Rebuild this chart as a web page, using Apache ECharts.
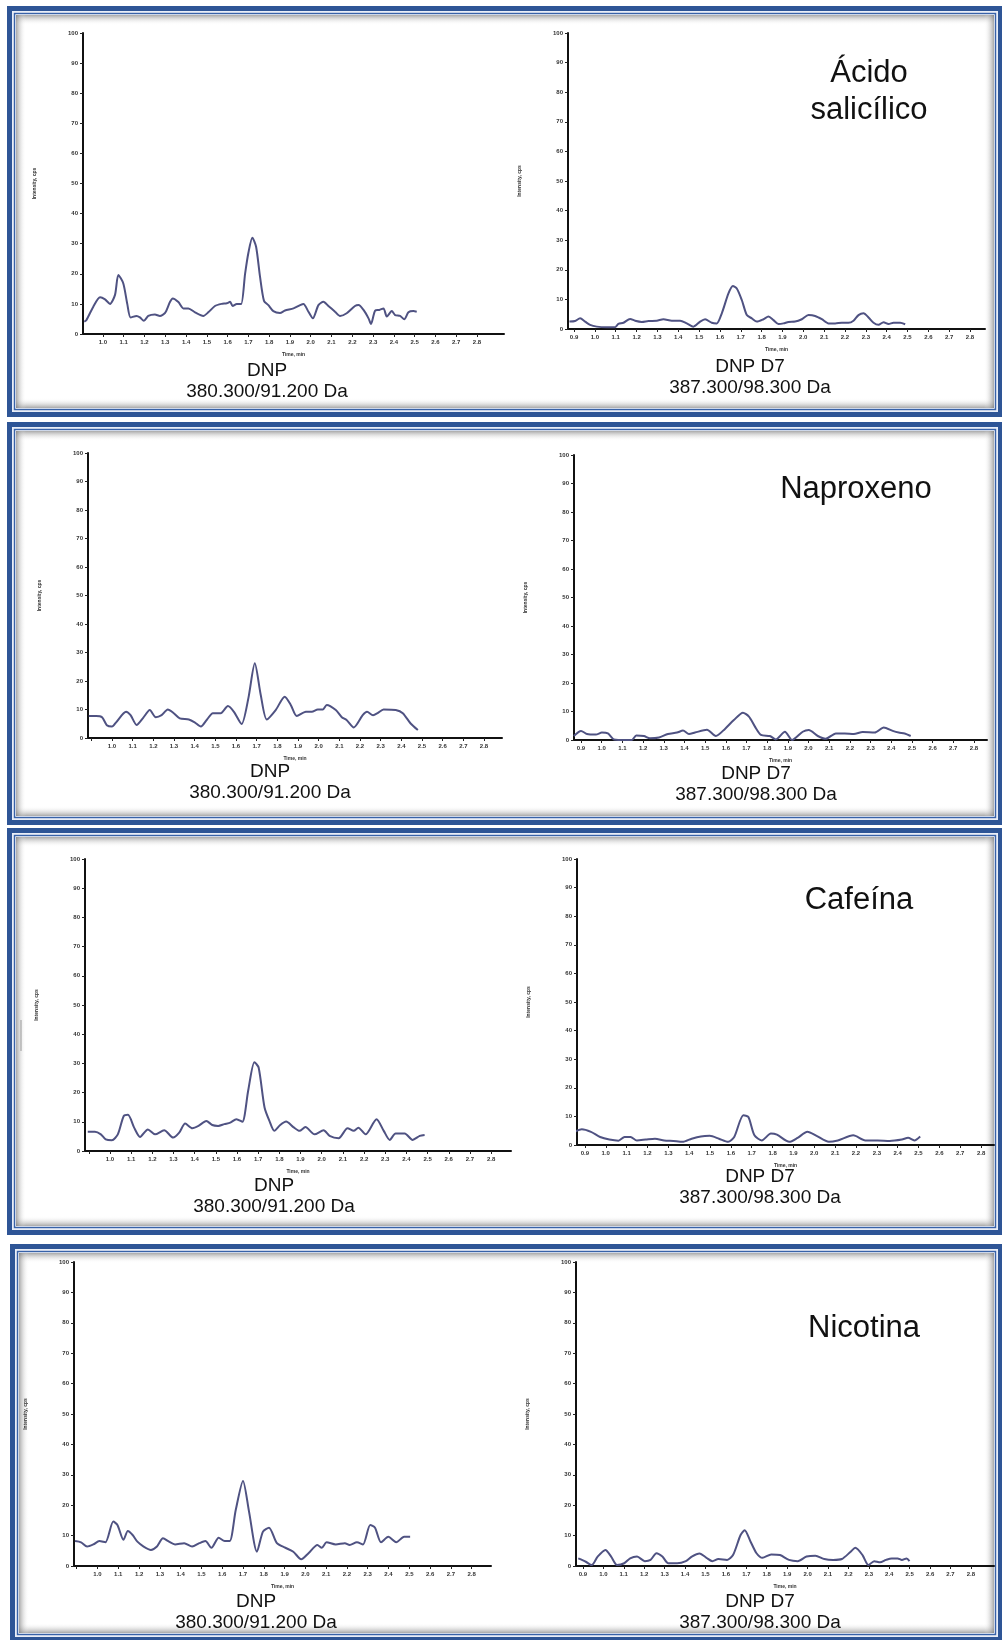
<!DOCTYPE html>
<html>
<head>
<meta charset="utf-8">
<script src="https://cdn.jsdelivr.net/npm/echarts@6/dist/echarts.min.js"></script>
<style>
  html, body { margin: 0; padding: 0; background: #fff; }
  #main { width: 1002px; height: 1640px; }
</style>
</head>
<body>
<div id="main"></div>
<script>
// tick labels (Time, min) and intensity ticks
var timeTicks = [0.9, 1.0, 1.1, 1.2, 1.3, 1.4, 1.5, 1.6, 1.7, 1.8, 1.9, 2.0, 2.1, 2.2, 2.3, 2.4, 2.5, 2.6, 2.7, 2.8];
var dnpTicks = [1.0, 1.1, 1.2, 1.3, 1.4, 1.5, 1.6, 1.7, 1.8, 1.9, 2.0, 2.1, 2.2, 2.3, 2.4, 2.5, 2.6, 2.7, 2.8];

// Ácido salicílico
var acidoDnp = [[0.91,4.1],[0.92,4.6],[0.953,9],[0.986,12.2],[1.01,11.5],[1.034,10],[1.058,13],[1.074,19.6],[1.098,16.8],[1.117,10],[1.133,5.5],[1.162,6],[1.178,5.5],[1.197,4.4],[1.218,6],[1.25,6.5],[1.274,6],[1.299,7],[1.323,10.7],[1.336,11.8],[1.363,10.6],[1.387,8.5],[1.411,8.5],[1.443,7.2],[1.483,6],[1.507,7.2],[1.539,9.3],[1.571,10],[1.596,10.2],[1.612,10.7],[1.624,9.3],[1.644,10],[1.665,10],[1.684,20],[1.70,27],[1.719,32],[1.737,29],[1.756,19],[1.775,11],[1.796,9.6],[1.82,7.6],[1.852,7],[1.876,7.8],[1.917,8.5],[1.949,9.6],[1.965,10],[1.989,7.4],[2.01,5.2],[2.037,9.6],[2.061,10.7],[2.085,9.3],[2.117,7.4],[2.141,6],[2.173,6.9],[2.213,9.3],[2.23,9.6],[2.254,8],[2.278,5.2],[2.29,3.3],[2.31,7.8],[2.33,8],[2.35,8.5],[2.366,5.8],[2.39,7.6],[2.406,6.3],[2.43,6],[2.45,4.9],[2.47,7.2],[2.494,7.6],[2.51,7.4]];
var acidoD7 = [[0.878,2.5],[0.905,2.7],[0.929,3.6],[0.953,2.5],[0.977,1.4],[1.009,0.8],[1.057,0.6],[1.097,0.6],[1.113,1.7],[1.137,2.1],[1.169,3.4],[1.193,2.8],[1.225,2.4],[1.257,2.7],[1.297,2.8],[1.329,3.3],[1.369,2.8],[1.409,2.8],[1.441,1.9],[1.473,0.8],[1.505,2.5],[1.529,3.3],[1.561,2.1],[1.585,1.9],[1.609,5.3],[1.641,12],[1.662,14.5],[1.681,13.7],[1.705,9.8],[1.729,4.7],[1.753,3.6],[1.777,2.5],[1.809,3.3],[1.833,4.2],[1.857,3],[1.881,1.7],[1.905,1.9],[1.929,2.4],[1.961,2.5],[1.993,3.3],[2.025,4.7],[2.057,4.4],[2.089,3.3],[2.121,1.9],[2.153,1.9],[2.185,2.1],[2.217,2.1],[2.241,2.8],[2.265,4.7],[2.289,5.3],[2.313,3.9],[2.337,2.1],[2.361,1.4],[2.385,2.3],[2.409,1.7],[2.433,2.1],[2.465,2.1],[2.489,1.6]];

// Naproxeno
var naproxenoDnp = [[0.888,7.7],[0.923,7.7],[0.952,7.3],[0.975,4.5],[1.0,4],[1.02,5.5],[1.068,9.2],[1.09,8],[1.119,4.6],[1.15,7],[1.183,9.8],[1.212,7.3],[1.24,8],[1.27,10],[1.299,8.7],[1.328,6.9],[1.372,6.5],[1.40,5.5],[1.43,4],[1.46,6.5],[1.488,8.7],[1.526,8.7],[1.561,11.2],[1.59,9.2],[1.627,4.9],[1.66,14],[1.691,26.2],[1.72,15],[1.749,6.5],[1.792,9.8],[1.836,14.5],[1.865,11.6],[1.894,7.7],[1.938,9.2],[1.967,9.2],[1.996,10],[2.02,10],[2.039,11.6],[2.083,9.8],[2.112,7.3],[2.135,6.3],[2.17,3.7],[2.213,8],[2.234,9.2],[2.263,8],[2.285,8.7],[2.314,10],[2.373,9.8],[2.407,8.7],[2.445,5.1],[2.48,2.8]];
var naproxenoD7 = [[0.865,1.4],[0.9,3.2],[0.929,2.1],[0.972,1.9],[1.001,2.6],[1.03,2.3],[1.059,0.2],[1.117,0],[1.146,0],[1.167,1.6],[1.204,1.4],[1.233,0.6],[1.277,0.9],[1.32,2.1],[1.364,2.6],[1.393,3.3],[1.422,2.1],[1.451,2.6],[1.509,3.6],[1.552,1.4],[1.596,3.9],[1.639,7],[1.683,9.6],[1.712,8.2],[1.741,4.7],[1.77,1.8],[1.813,1.4],[1.842,0.2],[1.886,2.9],[1.92,0],[1.972,2.9],[2.001,3.5],[2.045,1.4],[2.083,0.4],[2.132,2.3],[2.175,2.3],[2.219,2.1],[2.262,2.8],[2.32,2.6],[2.364,4.4],[2.407,3.2],[2.436,2.6],[2.465,2.3],[2.494,1.4]];

// Cafeína
var cafeinaDnp = [[0.895,6.6],[0.929,6.6],[0.957,5.7],[0.98,4],[1.009,3.7],[1.037,5.7],[1.065,12],[1.085,12.4],[1.114,8],[1.142,4.8],[1.179,7.4],[1.213,5.7],[1.256,7.1],[1.298,4.6],[1.327,6.3],[1.355,9.4],[1.389,7.8],[1.418,8.6],[1.455,10.3],[1.483,8.9],[1.511,8.6],[1.54,9.2],[1.568,9.7],[1.597,10.9],[1.625,10],[1.653,20.8],[1.682,30.4],[1.702,28.6],[1.73,14.9],[1.753,10.3],[1.776,6.9],[1.804,8.9],[1.832,10.1],[1.866,8.2],[1.895,6.9],[1.923,8.2],[1.966,5.7],[2.009,7.1],[2.037,5.2],[2.08,4.4],[2.122,7.8],[2.151,6.9],[2.173,8],[2.207,5.7],[2.259,10.9],[2.293,6.9],[2.321,3.8],[2.349,6],[2.392,6],[2.429,3.8],[2.463,5.2],[2.486,5.5]];
var cafeinaD7 = [[0.856,4.8],[0.885,5.5],[0.929,4.6],[0.973,2.8],[1.017,1.9],[1.061,1.5],[1.09,2.8],[1.119,2.8],[1.149,1.6],[1.192,1.9],[1.236,2.2],[1.28,1.6],[1.324,1.4],[1.368,1.1],[1.412,2.2],[1.456,3],[1.499,3.2],[1.543,2.2],[1.587,1.1],[1.616,2.8],[1.66,10.4],[1.684,9.8],[1.713,3.4],[1.748,1.6],[1.792,4],[1.821,3.6],[1.88,1.1],[1.92,2.5],[1.967,4.6],[2.011,3.2],[2.07,1.1],[2.113,1.6],[2.187,3.4],[2.245,1.6],[2.304,1.6],[2.362,1.4],[2.42,1.9],[2.45,2.5],[2.48,1.6],[2.508,3]];

// Nicotina
var nicotinaDnp = [[0.892,8.2],[0.921,7.8],[0.95,6.4],[0.98,7.1],[1.009,8.2],[1.038,7.8],[1.076,14.6],[1.096,13.5],[1.125,8.6],[1.146,11.5],[1.169,10.2],[1.192,8],[1.222,6.4],[1.257,5.3],[1.286,6.4],[1.315,9.1],[1.344,8],[1.373,7.1],[1.417,7.5],[1.455,6.4],[1.49,7.5],[1.519,8.2],[1.548,6],[1.583,9.3],[1.612,8.2],[1.636,8.2],[1.665,18.4],[1.70,28],[1.729,17.9],[1.767,4.7],[1.796,11.3],[1.825,12.6],[1.863,7.5],[1.904,6],[1.942,4.7],[1.98,2.2],[2.015,4.2],[2.058,6.9],[2.079,6],[2.102,7.8],[2.146,7.1],[2.19,7.5],[2.213,6.9],[2.248,7.8],[2.277,7.1],[2.312,13.5],[2.335,12.6],[2.364,7.8],[2.399,9.6],[2.437,7.8],[2.475,9.6],[2.504,9.6]];
var nicotinaD7 = [[0.877,2.5],[0.914,1.4],[0.943,0.3],[0.972,3.1],[1.01,5.3],[1.038,3.1],[1.067,0.3],[1.102,0.9],[1.131,2.5],[1.165,3.1],[1.203,1.6],[1.231,2],[1.26,4.2],[1.289,3.1],[1.318,0.9],[1.361,0.9],[1.404,1.6],[1.433,3.1],[1.471,4.1],[1.505,2.7],[1.534,1.6],[1.563,2.3],[1.606,2],[1.635,3.6],[1.672,10.2],[1.692,11.8],[1.721,8],[1.75,4.2],[1.779,2.7],[1.822,3.8],[1.865,3.6],[1.909,2],[1.952,1.6],[1.995,3.1],[2.038,3.4],[2.082,2.3],[2.125,2],[2.168,2.3],[2.211,4.7],[2.234,6],[2.269,3.6],[2.298,0.3],[2.326,1.6],[2.355,1.2],[2.384,2],[2.412,2.5],[2.441,2.5],[2.462,2],[2.485,2.5],[2.499,1.6]];

var FONT = 'Arial, "Liberation Sans", sans-serif';
var LINE = '#4f5282';
var BLUE = '#2e5596';

// layout of the eight chromatograms (pixel boxes of the plot areas)
var charts = [
  { data: acidoDnp,     left: 83,  top: 33,   right: 504, bottom: 334,  min: 0.904, max: 2.93,  ticks: dnpTicks },
  { data: acidoD7,      left: 568, top: 33,   right: 985, bottom: 329,  min: 0.871, max: 2.872, ticks: timeTicks },
  { data: naproxenoDnp, left: 88,  top: 453,  right: 502, bottom: 738,  min: 0.884, max: 2.887, ticks: dnpTicks },
  { data: naproxenoD7,  left: 574, top: 455,  right: 987, bottom: 740,  min: 0.866, max: 2.863, ticks: timeTicks },
  { data: cafeinaDnp,   left: 85,  top: 859,  right: 511, bottom: 1151, min: 0.882, max: 2.894, ticks: dnpTicks },
  { data: cafeinaD7,    left: 577, top: 859,  right: 994, bottom: 1145, min: 0.862, max: 2.862, ticks: timeTicks },
  { data: nicotinaDnp,  left: 74,  top: 1262, right: 491, bottom: 1566, min: 0.887, max: 2.893, ticks: dnpTicks },
  { data: nicotinaD7,   left: 576, top: 1262, right: 994, bottom: 1566, min: 0.866, max: 2.913, ticks: timeTicks }
];

// framed panels: [x0, y0, x1, y1]
var frames = [[7, 6, 1003, 417], [7, 422, 1003, 825], [7, 828, 1003, 1235], [10, 1244, 1003, 1642]];

var grid = [], xAxis = [], yAxis = [], series = [], graphic = [];

charts.forEach(function (c, i) {
  grid.push({ left: c.left, top: c.top, width: c.right - c.left, height: c.bottom - c.top });
  xAxis.push({
    type: 'value', gridIndex: i, min: c.min, max: c.max,
    name: 'Time, min', nameLocation: 'middle', nameGap: 18,
    nameTextStyle: { fontSize: 5, color: '#333', fontWeight: 'bold', fontFamily: FONT },
    axisLine: { show: true, onZero: false, lineStyle: { color: '#111', width: 2 } },
    axisTick: { show: true, customValues: timeTicks, length: 3, lineStyle: { color: '#222' } },
    axisLabel: {
      customValues: c.ticks, fontSize: 6, fontWeight: 'bold', color: '#333', margin: 5, fontFamily: FONT,
      formatter: function (v) { return v.toFixed(1); }
    },
    splitLine: { show: false }
  });
  yAxis.push({
    type: 'value', gridIndex: i, min: 0, max: 100, interval: 10,
    name: 'Intensity, cps', nameLocation: 'middle', nameGap: 46, nameRotate: 90,
    nameTextStyle: { fontSize: 5, color: '#333', fontWeight: 'bold', fontFamily: FONT },
    axisLine: { show: true, lineStyle: { color: '#111', width: 2 } },
    axisTick: { show: true, length: 3, lineStyle: { color: '#222' } },
    axisLabel: { fontSize: 6, fontWeight: 'bold', color: '#333', margin: 5, fontFamily: FONT },
    splitLine: { show: false }
  });
  series.push({
    type: 'line', xAxisIndex: i, yAxisIndex: i, data: c.data,
    showSymbol: false, smooth: 0.25, silent: true,
    lineStyle: { color: LINE, width: 2 }
  });
});

function shade(x, y, w, h, dir) {
  var g = { type: 'linear', x: 0, y: 0, x2: 0, y2: 0, colorStops: [
    { offset: 0, color: 'rgba(110,110,110,0.6)' }, { offset: 1, color: 'rgba(255,255,255,0)' }] };
  if (dir === 'down') g.y2 = 1;
  if (dir === 'up') { g.y = 1; }
  if (dir === 'right') g.x2 = 1;
  if (dir === 'left') { g.x = 1; }
  return { type: 'rect', silent: true, shape: { x: x, y: y, width: w, height: h }, style: { fill: g } };
}

frames.forEach(function (f) {
  var x0 = f[0], y0 = f[1], w = f[2] - f[0], h = f[3] - f[1];
  var s = 9, t = 10;
  graphic.push(shade(x0 + s, y0 + s, w - 2 * s, t, 'down'));
  graphic.push(shade(x0 + s, y0 + h - s - t, w - 2 * s, t, 'up'));
  graphic.push(shade(x0 + s, y0 + s, t, h - 2 * s, 'right'));
  graphic.push(shade(x0 + w - s - t, y0 + s, t, h - 2 * s, 'left'));
  graphic.push({ type: 'rect', silent: true, shape: { x: x0 + 2.5, y: y0 + 2.5, width: w - 5, height: h - 5 },
    style: { fill: 'none', stroke: BLUE, lineWidth: 5 } });
  graphic.push({ type: 'rect', silent: true, shape: { x: x0 + 5.75, y: y0 + 5.75, width: w - 11.5, height: h - 11.5 },
    style: { fill: 'none', stroke: '#e9eef7', lineWidth: 1.5 } });
  graphic.push({ type: 'rect', silent: true, shape: { x: x0 + 7.5, y: y0 + 7.5, width: w - 15, height: h - 15 },
    style: { fill: 'none', stroke: '#3862a8', lineWidth: 1.5 } });
});

function label(text, x, y, size) {
  return { type: 'text', x: x, y: y, silent: true, z: 10,
    style: { text: text, fill: '#111', fontSize: size, fontFamily: FONT,
      textAlign: 'center', textVerticalAlign: 'middle', align: 'center', verticalAlign: 'middle' } };
}

// compound names
graphic.push(label('Ácido', 869, 73, 31));
graphic.push(label('salicílico', 869, 110, 31));
graphic.push(label('Naproxeno', 856, 489, 31));
graphic.push(label('Cafeína', 859, 900, 31));
graphic.push(label('Nicotina', 864, 1328, 31));

// transition captions
var captions = [
  [267, 371, 750, 367], [270, 772, 756, 774], [274, 1186, 760, 1177], [256, 1602, 760, 1602]
];
captions.forEach(function (p) {
  graphic.push(label('DNP', p[0], p[1], 19));
  graphic.push(label('380.300/91.200 Da', p[0], p[1] + 21, 19));
  graphic.push(label('DNP D7', p[2], p[3], 19));
  graphic.push(label('387.300/98.300 Da', p[2], p[3] + 21, 19));
});

// small scan mark at the left of the Cafeína panel
graphic.push({ type: 'line', silent: true, shape: { x1: 21, y1: 1020, x2: 21, y2: 1051 }, style: { stroke: '#9a9a9a', lineWidth: 1 } });

var chart = echarts.init(document.getElementById('main'), null, { renderer: 'canvas' });
chart.setOption({
  backgroundColor: '#ffffff',
  animation: false,
  grid: grid,
  xAxis: xAxis,
  yAxis: yAxis,
  series: series,
  graphic: graphic
});
</script>
</body>
</html>
